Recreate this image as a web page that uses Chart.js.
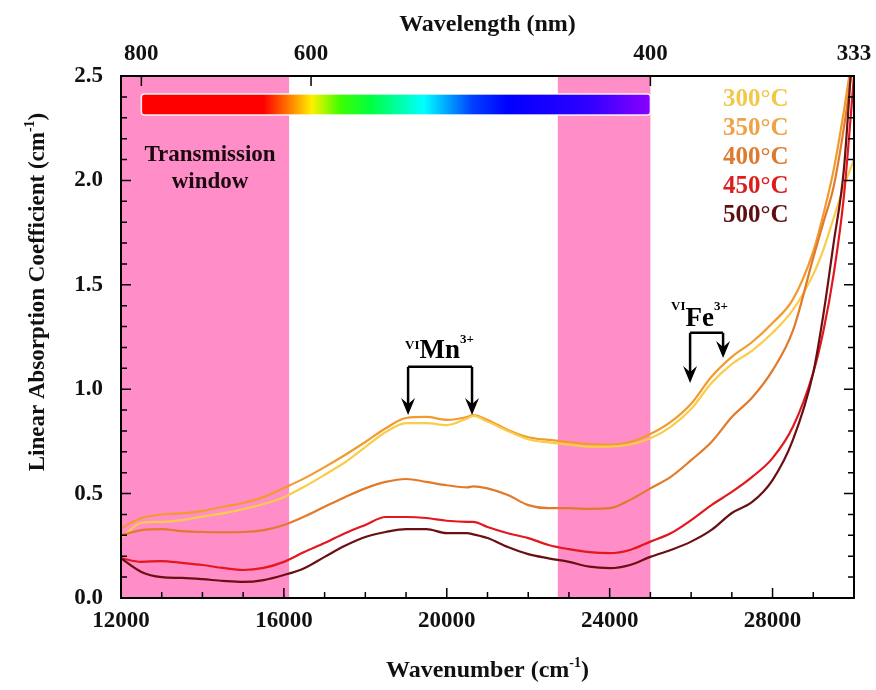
<!DOCTYPE html>
<html>
<head>
<meta charset="utf-8">
<script src="https://cdn.jsdelivr.net/npm/chart.js@4.4.0/dist/chart.umd.min.js"></script>
<style>
  html, body { margin:0; padding:0; background:#fff; }
  #wrap { width:876px; height:690px; }
</style>
</head>
<body>
<div id="wrap"><canvas id="c" width="876" height="690"></canvas></div>
<script>
const wavenumbers = [12000,12500,13000,13500,14000,14500,15000,15500,16000,16500,17000,17500,18000,18500,19000,19500,20000,20500,20650,21000,21500,22000,22500,23000,23500,24000,24500,25000,25500,26000,26500,27000,27500,28000,28500,29000,29250,29500,29750,30000];

const abs300 = [0.287,0.36,0.365,0.373,0.39,0.405,0.425,0.45,0.483,0.533,0.59,0.65,0.723,0.795,0.838,0.838,0.828,0.86,0.872,0.845,0.80,0.76,0.745,0.735,0.725,0.725,0.735,0.765,0.82,0.905,1.03,1.12,1.185,1.27,1.38,1.55,1.67,1.82,1.97,2.1];
const abs350 = [0.335,0.383,0.40,0.405,0.417,0.437,0.455,0.483,0.527,0.573,0.627,0.685,0.747,0.813,0.862,0.867,0.853,0.867,0.876,0.853,0.805,0.77,0.757,0.747,0.737,0.733,0.747,0.785,0.843,0.93,1.06,1.155,1.226,1.317,1.43,1.66,1.84,2.05,2.33,2.65];
const abs400 = [0.30,0.325,0.33,0.32,0.316,0.315,0.316,0.325,0.35,0.39,0.437,0.483,0.525,0.556,0.57,0.556,0.54,0.53,0.535,0.525,0.493,0.445,0.43,0.43,0.427,0.43,0.47,0.525,0.58,0.66,0.747,0.867,0.96,1.09,1.28,1.63,1.80,1.97,2.25,2.6];
const abs450 = [0.19,0.173,0.177,0.168,0.158,0.144,0.134,0.144,0.173,0.22,0.263,0.31,0.35,0.388,0.388,0.383,0.37,0.365,0.365,0.34,0.31,0.287,0.254,0.234,0.22,0.215,0.23,0.27,0.31,0.373,0.445,0.508,0.58,0.67,0.82,1.08,1.28,1.55,1.92,2.5];
const abs500 = [0.19,0.125,0.10,0.096,0.09,0.082,0.077,0.086,0.11,0.143,0.197,0.25,0.292,0.316,0.33,0.33,0.311,0.311,0.305,0.287,0.244,0.21,0.19,0.173,0.15,0.143,0.158,0.197,0.23,0.27,0.326,0.407,0.46,0.565,0.757,1.08,1.36,1.70,2.05,2.75];

const seriesLabels = ["300°C","350°C","400°C","450°C","500°C"];
const lineColors = ["#F9CD4A","#F29A2E","#E27A2A","#E3171E","#6A0F12"];
const textColors = ["#F2C84B","#EFA245","#DD7A2E","#DD1C1C","#5E0F12"];

const bottomTicks = [12000,16000,20000,24000,28000];
const wavelengthTicks = [800,600,400,333];
const yTicks = [0,0.5,1,1.5,2,2.5];
const windowBands = [[12000,16129],[22727,25000]];
const mnArrows = [19050,20620];
const feArrows = [25975,26785];

const SERIF = "'Liberation Serif','DejaVu Serif',serif";
const font = (px) => `bold ${px}px ${SERIF}`;

function rich(ctx, parts, x, y, align){
  let w = 0;
  for(const p of parts){ ctx.font = font(p.f); w += ctx.measureText(p.t).width; }
  let cx = align === "left" ? x : x - w/2;
  ctx.textAlign = "left";
  ctx.textBaseline = "alphabetic";
  for(const p of parts){
    ctx.font = font(p.f);
    ctx.fillText(p.t, cx, y + (p.dy || 0));
    cx += ctx.measureText(p.t).width;
  }
}

function arrowDown(ctx, x, y0, tip){
  ctx.beginPath();
  ctx.moveTo(x, y0);
  ctx.lineTo(x, tip - 10);
  ctx.stroke();
  ctx.beginPath();
  ctx.moveTo(x, tip);
  ctx.lineTo(x - 7, tip - 17);
  ctx.lineTo(x, tip - 11);
  ctx.lineTo(x + 7, tip - 17);
  ctx.closePath();
  ctx.fill();
}

const decor = {
  id: "decor",
  beforeDatasetsDraw(chart){
    const { ctx, chartArea: ca, scales } = chart;
    const xs = scales.x;
    ctx.save();
    // transmission windows
    ctx.fillStyle = "#FF8DC7";
    for(const [a,b] of windowBands){
      const x0 = xs.getPixelForValue(a), x1 = xs.getPixelForValue(b);
      ctx.fillRect(x0, ca.top, x1 - x0, ca.bottom - ca.top);
    }
    // rainbow bar, 800 nm -> 400 nm
    const bx0 = xs.getPixelForValue(1e7/800), bx1 = xs.getPixelForValue(1e7/400);
    const by = ca.top + 18, bh = 21;
    const g = ctx.createLinearGradient(bx0, 0, bx1, 0);
    g.addColorStop(0, "#FF0000");
    g.addColorStop(0.24, "#FF0000");
    g.addColorStop(0.29, "#FF7A00");
    g.addColorStop(0.335, "#FFF000");
    g.addColorStop(0.39, "#40FF00");
    g.addColorStop(0.45, "#00FF40");
    g.addColorStop(0.555, "#00FFFF");
    g.addColorStop(0.65, "#0040FF");
    g.addColorStop(0.72, "#0000FF");
    g.addColorStop(0.88, "#3000FF");
    g.addColorStop(1, "#8A00FF");
    ctx.fillStyle = g;
    ctx.beginPath();
    ctx.roundRect(bx0, by, bx1 - bx0, bh, 3);
    ctx.fill();
    ctx.strokeStyle = "rgba(255,255,255,0.9)";
    ctx.lineWidth = 1.5;
    ctx.stroke();
    ctx.fillStyle = "#1a0a10";
    ctx.font = font(23);
    ctx.textAlign = "center";
    ctx.textBaseline = "middle";
    ctx.fillText("Transmission", ca.left + 89, 155);
    ctx.fillText("window", ca.left + 89, 182);
    ctx.restore();
  },
  afterDatasetsDraw(chart){
    const { ctx, chartArea: ca, scales } = chart;
    const xs = scales.x, ys = scales.y;
    ctx.save();
    ctx.strokeStyle = "#000";
    ctx.fillStyle = "#000";
    // inward ticks
    ctx.lineWidth = 1.5;
    ctx.beginPath();
    for(let v = 12000; v <= 30000; v += 1000){
      const px = xs.getPixelForValue(v);
      const len = bottomTicks.includes(v) ? 10 : 6;
      ctx.moveTo(px, ca.bottom); ctx.lineTo(px, ca.bottom - len);
    }
    for(const nm of wavelengthTicks.slice(0,3)){
      const px = xs.getPixelForValue(1e7/nm);
      ctx.moveTo(px, ca.top); ctx.lineTo(px, ca.top + 10);
    }
    for(let i = 0; i <= 25; i++){
      const py = ys.getPixelForValue(i/10);
      const len = i % 5 === 0 ? 10 : 6;
      ctx.moveTo(ca.left, py); ctx.lineTo(ca.left + len, py);
      ctx.moveTo(ca.right, py); ctx.lineTo(ca.right - len, py);
    }
    ctx.stroke();
    ctx.lineWidth = 2;
    ctx.strokeRect(ca.left, ca.top, ca.right - ca.left, ca.bottom - ca.top);

    // Mn3+ bracket
    ctx.lineWidth = 2.5;
    const m0 = xs.getPixelForValue(mnArrows[0]), m1 = xs.getPixelForValue(mnArrows[1]);
    const mTop = ys.getPixelForValue(1.107), mTip = ys.getPixelForValue(0.876);
    ctx.beginPath(); ctx.moveTo(m0, mTop); ctx.lineTo(m1, mTop); ctx.stroke();
    arrowDown(ctx, m0, mTop, mTip);
    arrowDown(ctx, m1, mTop, mTip);
    rich(ctx, [{t:"VI", f:13, dy:-9},{t:"Mn", f:27},{t:"3+", f:13, dy:-15}], m0 - 3, mTop - 9, "left");

    // Fe3+ bracket
    const f0 = xs.getPixelForValue(feArrows[0]), f1 = xs.getPixelForValue(feArrows[1]);
    const fTop = ys.getPixelForValue(1.27);
    ctx.beginPath(); ctx.moveTo(f0, fTop); ctx.lineTo(f1, fTop); ctx.stroke();
    arrowDown(ctx, f0, fTop, ys.getPixelForValue(1.03));
    arrowDown(ctx, f1, fTop, ys.getPixelForValue(1.15));
    rich(ctx, [{t:"VI", f:13, dy:-16},{t:"Fe", f:27},{t:"3+", f:13, dy:-16}], f0 - 19, fTop - 7, "left");

    // legend
    ctx.textAlign = "left";
    ctx.textBaseline = "middle";
    ctx.font = font(25);
    seriesLabels.forEach((lab, i) => {
      ctx.fillStyle = textColors[i];
      ctx.fillText(lab, ca.right - 131, ca.top + 24 + i * 29);
    });

    // axis titles
    ctx.fillStyle = "#111";
    const cx = (ca.left + ca.right) / 2;
    rich(ctx, [{t:"Wavelength (nm)", f:24}], cx, 31, "center");
    rich(ctx, [{t:"Wavenumber (cm", f:24},{t:"-1", f:14, dy:-10},{t:")", f:24}], cx, 677, "center");
    ctx.translate(44, 292);
    ctx.rotate(-Math.PI/2);
    rich(ctx, [{t:"Linear Absorption Coefficient (cm", f:23},{t:"-1", f:14, dy:-10},{t:")", f:23}], 0, 0, "center");
    ctx.restore();
  }
};

const series = [abs500, abs450, abs400, abs300, abs350];
const order = [4, 3, 2, 0, 1];
const datasets = series.map((vals, k) => ({
  label: seriesLabels[order[k]],
  data: wavenumbers.map((w, i) => ({ x: w, y: vals[i] })),
  borderColor: lineColors[order[k]],
  borderWidth: 2.2,
  pointRadius: 0,
  fill: false,
  cubicInterpolationMode: "monotone"
}));

const tickFont = { family: SERIF, size: 23, weight: "bold" };
const noSidePad = (s) => { s.paddingLeft = 0; s.paddingRight = 0; };

new Chart(document.getElementById("c"), {
  type: "line",
  data: { datasets },
  options: {
    responsive: false,
    animation: false,
    layout: { padding: { right: 22, left: 0, top: 0, bottom: 0 } },
    plugins: { legend: { display: false }, tooltip: { enabled: false } },
    scales: {
      x: {
        type: "linear", position: "bottom", min: 12000, max: 30000,
        grid: { display: false, drawTicks: false },
        border: { display: false },
        afterBuildTicks: (s) => { s.ticks = bottomTicks.map(v => ({ value: v })); },
        afterFit: (s) => { s.height = 92; noSidePad(s); },
        ticks: { color: "#111", font: tickFont, padding: 9, maxRotation: 0, autoSkip: false, callback: (v) => String(v) }
      },
      x2: {
        type: "linear", position: "top", min: 12000, max: 30000,
        grid: { display: false, drawTicks: false },
        border: { display: false },
        afterBuildTicks: (s) => { s.ticks = wavelengthTicks.map(nm => ({ value: Math.min(30000, 1e7/nm) })); },
        afterFit: (s) => { s.height = 76; noSidePad(s); },
        ticks: {
          color: "#111", font: tickFont, padding: 8, maxRotation: 0, autoSkip: false,
          callback: (v) => String(v >= 30000 ? 333 : Math.round(1e7 / v))
        }
      },
      y: {
        type: "linear", position: "left", min: 0, max: 2.5,
        grid: { display: false, drawTicks: false },
        border: { display: false },
        afterBuildTicks: (s) => { s.ticks = yTicks.map(v => ({ value: v })); },
        afterFit: (s) => { s.width = 121; },
        ticks: { color: "#111", font: tickFont, padding: 18, callback: (v) => Number(v).toFixed(1) }
      }
    }
  },
  plugins: [decor]
});
</script>
</body>
</html>
